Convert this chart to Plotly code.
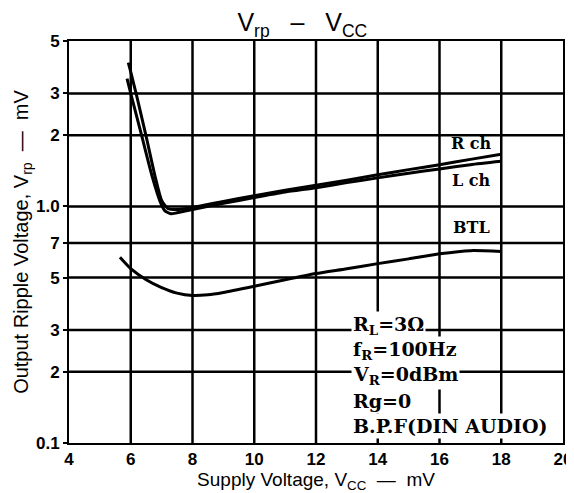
import plotly.graph_objects as go
import math

# Data
rch_x = [5.92, 6.0, 6.2, 6.5, 6.8, 7.0, 7.2, 7.5, 8.0, 9.0, 10.0, 11.0, 12.0, 13.0, 14.0, 15.0, 16.0, 17.0, 18.0]
rch_y = [4.05, 3.70, 2.90, 1.97, 1.32, 1.06, 0.98, 0.97, 0.99, 1.05, 1.11, 1.17, 1.23, 1.29, 1.36, 1.43, 1.50, 1.58, 1.66]

lch_x = [5.88, 6.0, 6.35, 6.7, 6.95, 7.1, 7.3, 7.5, 8.0, 9.0, 10.0, 11.0, 12.0, 13.0, 14.0, 15.0, 16.0, 17.0, 18.0]
lch_y = [3.47, 3.00, 2.00, 1.33, 1.05, 0.96, 0.93, 0.94, 0.97, 1.03, 1.09, 1.15, 1.20, 1.26, 1.32, 1.38, 1.44, 1.50, 1.55]

btl_x = [5.65, 6.0, 6.5, 7.0, 7.5, 8.0, 8.5, 9.0, 10.0, 11.0, 12.0, 13.0, 14.0, 15.0, 16.0, 17.0, 18.0]
btl_y = [0.61, 0.546, 0.49, 0.454, 0.43, 0.42, 0.423, 0.433, 0.46, 0.49, 0.52, 0.545, 0.573, 0.60, 0.63, 0.65, 0.645]

x_ticks = [4, 6, 8, 10, 12, 14, 16, 18, 20]
y_ticks = [0.1, 0.2, 0.3, 0.5, 0.7, 1.0, 2, 3, 5]
y_ticktext = ["0.1", "2", "3", "5", "7", "1.0", "2", "3", "5"]

curve_labels = ["R ch", "L ch", "BTL"]
curve_label_x = [17.05, 17.05, 17.05]
curve_label_y = [1.85, 1.29, 0.815]

cond_lines = ["R<sub>L</sub>=3Ω", "f<sub>R</sub>=100Hz", "V<sub>R</sub>=0dBm", "Rg=0", "B.P.F(DIN AUDIO)"]
cond_y = [0.313, 0.2455, 0.1923, 0.1507, 0.118]
cond_x = 13.12
cond_box_x = [12.94, 17.15]
cond_box_y = [0.362, 0.1005]

fig = go.Figure()

# grid lines built from the tick lists (vertical as one trace, horizontal as another)
vx, vy, hx, hy = [], [], [], []
for xv in x_ticks[1:-1]:
    vx += [xv, xv, None]
    vy += [y_ticks[0], y_ticks[-1], None]
for yv in y_ticks[1:-1]:
    hx += [x_ticks[0], x_ticks[-1], None]
    hy += [yv, yv, None]
fig.add_trace(go.Scatter(x=vx, y=vy, mode="lines", line=dict(color="black", width=2.5),
                         hoverinfo="skip", showlegend=False, connectgaps=False))
fig.add_trace(go.Scatter(x=hx, y=hy, mode="lines", line=dict(color="black", width=2.5),
                         hoverinfo="skip", showlegend=False, connectgaps=False))

line_style = dict(color="black", width=3, shape="spline", smoothing=0.6)
fig.add_trace(go.Scatter(x=rch_x, y=rch_y, mode="lines", line=line_style, name="R ch"))
fig.add_trace(go.Scatter(x=lch_x, y=lch_y, mode="lines", line=line_style, name="L ch"))
fig.add_trace(go.Scatter(x=btl_x, y=btl_y, mode="lines", line=line_style, name="BTL"))

fig.add_shape(type="rect", x0=cond_box_x[0], x1=cond_box_x[1],
              y0=math.log10(cond_box_y[0]), y1=math.log10(cond_box_y[1]),
              fillcolor="white", line=dict(width=0), layer="above")

for t, xx, yy in zip(curve_labels, curve_label_x, curve_label_y):
    fig.add_annotation(x=xx, y=math.log10(yy), text=t, showarrow=False,
                       font=dict(family="DejaVu Serif", size=16, color="black", weight="bold"),
                       xanchor="center", yanchor="middle")

for t, yy in zip(cond_lines, cond_y):
    fig.add_annotation(x=cond_x, y=math.log10(yy), text=t, showarrow=False,
                       font=dict(family="DejaVu Serif", size=19, color="black", weight="bold"),
                       xanchor="left", yanchor="middle", bgcolor="white", borderpad=1)

axis_common = dict(
    showgrid=False,
    showline=True, linecolor="black", linewidth=2, mirror=True,
    zeroline=False, automargin=False,
    tickfont=dict(family="Liberation Sans", size=17, color="black", weight="bold"),
)
fig.update_xaxes(
    range=[4, 20], tickmode="array", tickvals=x_ticks, ticktext=[str(v) for v in x_ticks],
    ticks="", **axis_common,
    title=dict(text="Supply Voltage, V<sub>CC</sub>  —  mV", standoff=4,
               font=dict(family="Liberation Sans", size=19, color="black")),
)
fig.update_yaxes(
    type="log", range=[-1, math.log10(5)], tickmode="array", tickvals=y_ticks, ticktext=y_ticktext,
    ticks="outside", ticklen=4, tickwidth=2, tickcolor="black", **axis_common,
    title=dict(text="Output Ripple Voltage, V<sub>rp</sub>  —  mV", standoff=2,
               font=dict(family="Liberation Sans", size=20, color="black")),
)
fig.update_layout(
    template="none",
    width=566, height=485,
    margin=dict(l=61, r=11, t=33, b=50),
    paper_bgcolor="white", plot_bgcolor="white",
    showlegend=False,
    title=dict(text="V<sub>rp</sub>   –   V<sub>CC</sub>", x=0.52, xanchor="center", y=0.97, yanchor="middle",
               font=dict(family="Liberation Sans", size=25, color="black")),
)
fig.write_html("out.html")
